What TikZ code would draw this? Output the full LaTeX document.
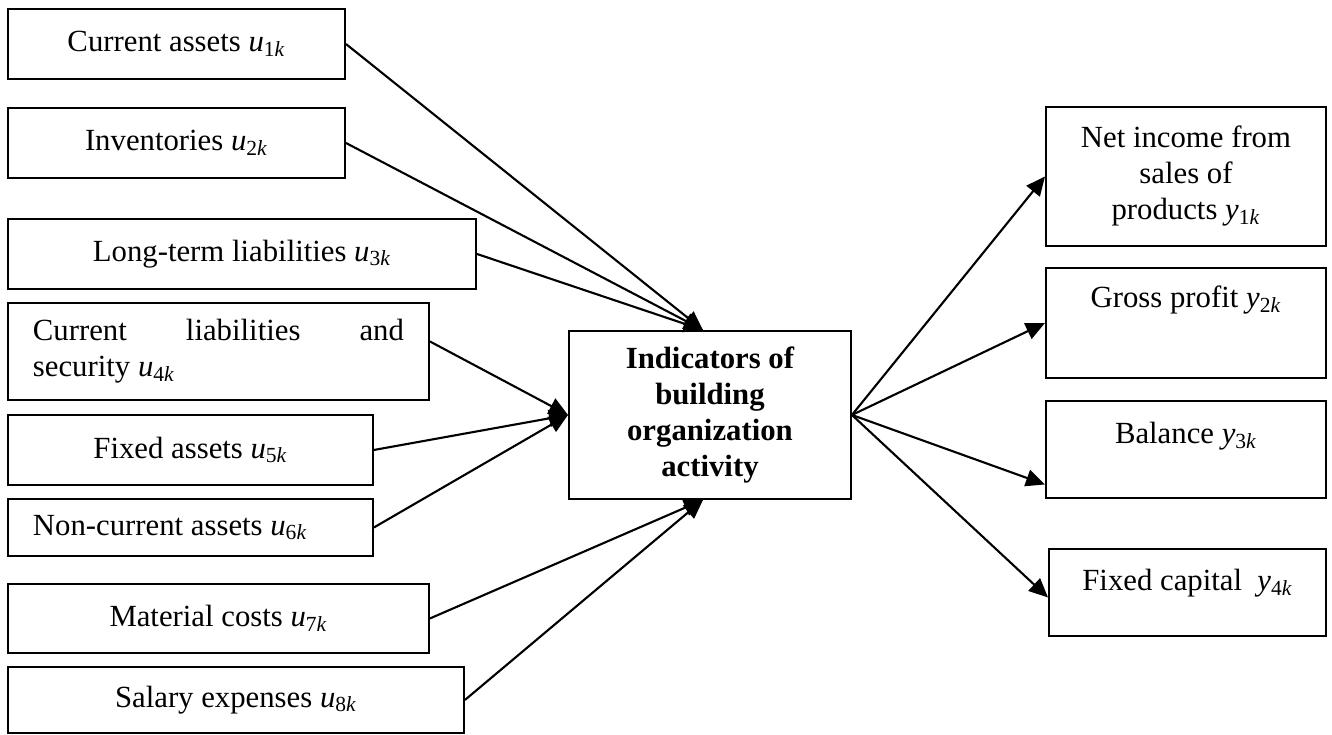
\documentclass[tikz,border=0pt]{standalone}
\usepackage{fontspec}
\setmainfont{Liberation Serif}
\usetikzlibrary{arrows.meta}
\newcommand{\uk}[1]{\textit{u}\textsubscript{#1\textit{k}}}
\newcommand{\yk}[1]{\textit{y}\textsubscript{#1\textit{k}}}

\begin{document}
\begin{tikzpicture}[
		box/.style={draw, line width=1.1pt, anchor=north west, inner sep=0pt, align=center, font=\fontsize{17.5}{20.5}\selectfont},
		conn/.style={line width=1.2pt, -{Triangle[length=0.38cm, width=0.34cm]}}
	]
		%%%%% START %%%%%
		
		\useasboundingbox (0, 0) rectangle (26.64, -14.70);
		
		\node[box, minimum width=6.74cm, minimum height=1.40cm] (c1) at (0.14, -0.16) {Current assets \uk{1}};
		\node[box, minimum width=6.74cm, minimum height=1.40cm] (c2) at (0.14, -2.14) {Inventories \uk{2}};
		\node[box, minimum width=9.36cm, minimum height=1.40cm] (c3) at (0.14, -4.36) {Long-term liabilities \uk{3}};
		\node[box, minimum width=8.42cm, minimum height=1.94cm, inner xsep=0.5cm, text width=7.42cm, align=flush left] (c4) at (0.14, -6.04) {Current\hfill liabilities\hfill and\\security \uk{4}};
		\node[box, minimum width=7.30cm, minimum height=1.40cm] (c5) at (0.14, -8.28) {Fixed assets \uk{5}};
		\node[box, minimum width=7.30cm, minimum height=1.14cm, inner xsep=0.5cm, text width=6.30cm, align=flush left] (c6) at (0.14, -9.96) {Non-current assets \uk{6}};
		\node[box, minimum width=8.42cm, minimum height=1.38cm] (c7) at (0.14, -11.66) {Material costs \uk{7}};
		\node[box, minimum width=9.12cm, minimum height=1.32cm] (c8) at (0.14, -13.32) {Salary expenses \uk{8}};
		
		\node[box, minimum width=5.64cm, minimum height=3.36cm, font=\fontsize{17.5}{20.5}\selectfont\bfseries] (ind) at (11.36, -6.60) {Indicators of\\building\\organization\\activity};
		
		\node[box, minimum width=5.60cm, minimum height=2.78cm] (y1) at (20.90, -2.12) {Net income from\\sales of\\products \yk{1}};
		\node[box, minimum width=5.60cm, text height=0.80cm, text depth=1.40cm] (y2) at (20.90, -5.34) {Gross profit \yk{2}};
		\node[box, minimum width=5.60cm, text height=0.86cm, text depth=1.08cm] (y3) at (20.90, -8.00) {Balance \yk{3}};
		\node[box, minimum width=5.54cm, text height=0.84cm, text depth=0.90cm] (y4) at (20.96, -10.96) {Fixed capital~ \yk{4}};
		
		% inputs
		\draw[conn] (c1.east) -- ([xshift=-0.14cm]ind.north);
		\draw[conn] (c2.east) -- ([xshift=-0.14cm]ind.north);
		\draw[conn] (c3.east) -- ([xshift=-0.14cm]ind.north);
		\draw[conn] ([yshift=0.2cm]c4.east) -- (ind.west);
		\draw[conn] (c5.east) -- (ind.west);
		\draw[conn] (c6.east) -- (ind.west);
		\draw[conn] (c7.east) -- ([xshift=-0.14cm]ind.south);
		\draw[conn] (c8.east) -- ([xshift=-0.14cm]ind.south);
		
		% outputs
		\draw[conn] (ind.east) -- (y1.west);
		\draw[conn] (ind.east) -- (y2.west);
		\draw[conn] (ind.east) -- ([yshift=-0.7cm]y3.west);
		\draw[conn] (ind.east) -- ([yshift=-0.1cm]y4.west);
		
		%%%%% END %%%%%
	\end{tikzpicture}
\end{document}
